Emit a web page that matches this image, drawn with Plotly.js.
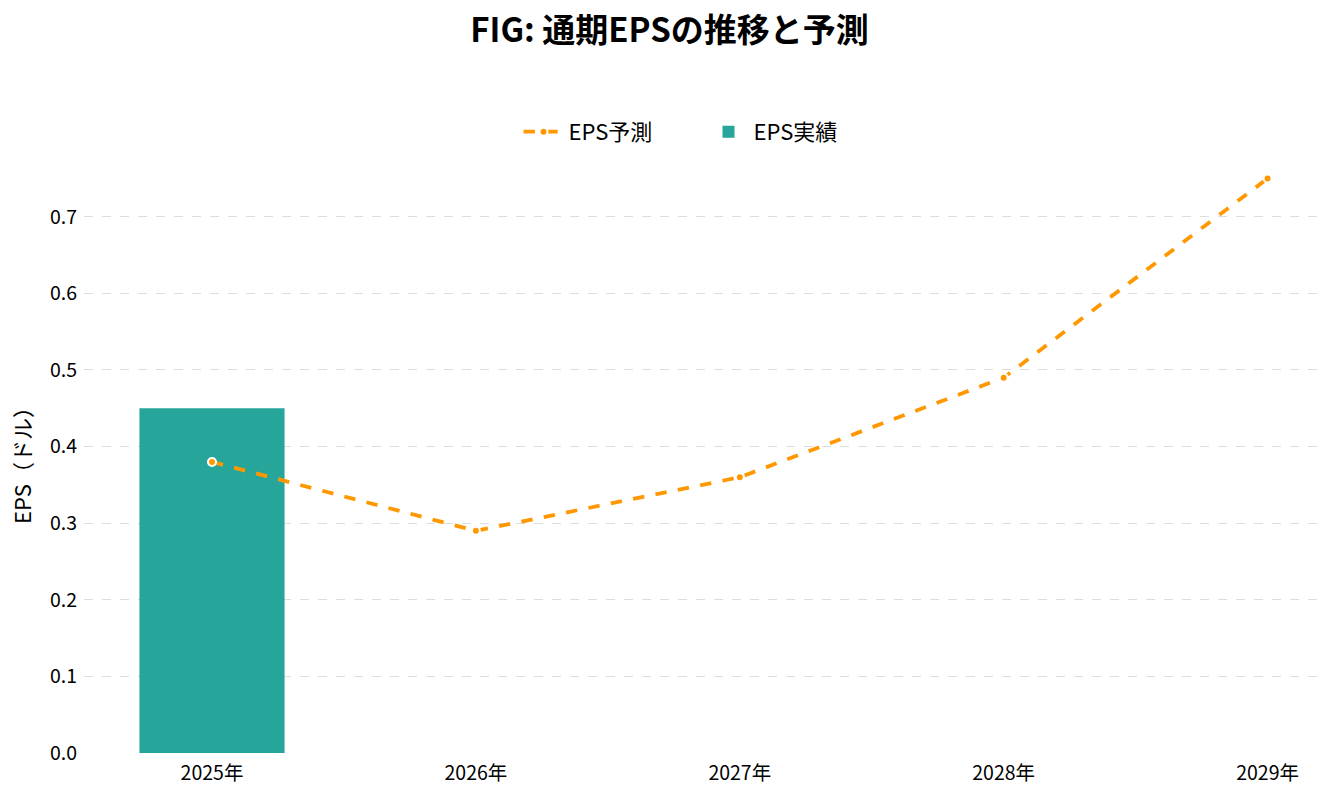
<!DOCTYPE html>
<html>
<head>
<meta charset="utf-8">
<script src="https://cdn.plot.ly/plotly-3.0.1.min.js"></script>
<style>
  body { margin: 0; background: #fff; }
  #graph { width: 1339px; height: 798px; }
</style>
</head>
<body>
<div id="graph"></div>
<script>
// data
var years = ['2025年', '2026年', '2027年', '2028年', '2029年'];
var epsForecast = [0.38, 0.29, 0.36, 0.49, 0.75];
var actualYears = ['2025年'];
var epsActual = [0.45];

var font = '"Noto Sans CJK JP", "Noto Sans", sans-serif';

Plotly.newPlot('graph', [{
  x: years,
  y: epsForecast,
  type: 'scatter',
  mode: 'lines+markers',
  name: 'EPS予測',
  line: {color: '#ff9800', width: 3.8, dash: 'dash'},
  marker: {color: '#ff9800', size: 8, line: {color: '#ffffff', width: 2}}
}, {
  x: actualYears,
  y: epsActual,
  type: 'bar',
  name: 'EPS実績',
  width: 0.55,
  marker: {color: '#26a69a'}
}], {
  title: {
    text: '<b>FIG: 通期EPSの推移と予測</b>',
    font: {family: font, size: 33, color: '#000'},
    x: 0.5, xanchor: 'center', y: 0.962, yanchor: 'middle'
  },
  font: {family: font, color: '#000'},
  paper_bgcolor: '#fff',
  plot_bgcolor: '#fff',
  margin: {l: 84, r: 16, t: 167, b: 45},
  showlegend: true,
  legend: {
    orientation: 'h', x: 0.5, xanchor: 'center', y: 1.06, yanchor: 'middle',
    font: {family: font, size: 22, color: '#000'},
    itemwidth: 40,
    entrywidth: 130
  },
  xaxis: {
    type: 'category',
    range: [-0.485, 4.21],
    showgrid: false,
    zeroline: false,
    showline: false,
    ticks: '',
    ticklabelstandoff: 6,
    tickfont: {family: font, size: 19.5, color: '#000'}
  },
  yaxis: {
    range: [0, 0.765],
    dtick: 0.1,
    tickformat: '.1f',
    showgrid: true,
    gridcolor: '#dddddd',
    griddash: 'dash',
    gridwidth: 1,
    zeroline: false,
    showline: false,
    ticks: '',
    ticklabelstandoff: 6,
    tickfont: {family: font, size: 19.5, color: '#000'},
    title: {text: 'EPS（ドル）', font: {family: font, size: 22, color: '#000'}, standoff: 12}
  }
}, {displayModeBar: false});
</script>
</body>
</html>
